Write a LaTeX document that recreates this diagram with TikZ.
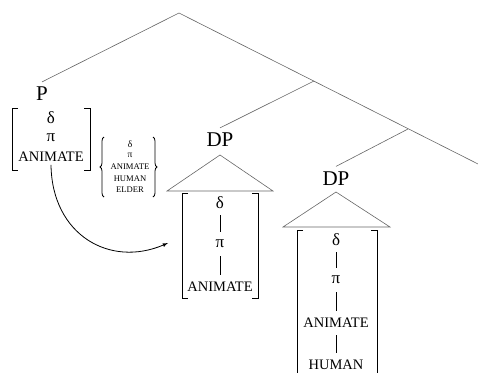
\documentclass[tikz,border=0pt]{standalone}
\usepackage{fontspec}
\setmainfont{Liberation Serif}
\usetikzlibrary{decorations.pathreplacing}
\begin{document}
\begin{tikzpicture}[x=1pt,y=-1pt,
  tree/.style={draw=black!60,line width=0.6pt},
  lab/.style={font=\fontsize{21}{23}\selectfont,inner sep=5pt},
  gk/.style={font=\fontsize{17}{19}\selectfont,inner sep=0pt},
  capf/.style={font=\fontsize{14.5}{16}\selectfont,inner sep=0pt},
  sm/.style={font=\fontsize{8.6}{9}\selectfont,inner sep=0pt},
  smgk/.style={font=\fontsize{9.5}{10}\selectfont,inner sep=0pt},
  brk/.style={draw=black,line width=0.8pt},
  bar/.style={draw=black,line width=0.6pt,shorten <=12pt,shorten >=12pt},
  brc/.style={draw=black,line width=0.8pt,decorate,decoration={brace,amplitude=4pt}}]
\useasboundingbox (0,0) rectangle (478,372);
% tree
\coordinate (top) at (179,13);
\coordinate (b1) at (314,81);
\coordinate (b2) at (408,129);
\coordinate (rend) at (482,166);
\node[lab] (P) at (42,94) {P};
\node[lab] (DP1) at (220,140) {DP};
\node[lab] (DP2) at (336,178.5) {DP};
\draw[tree] (P.north) -- (top) -- (rend);
\draw[tree] (b1) -- (DP1.north);
\draw[tree] (b2) -- (DP2.north);
% triangles
\coordinate (t1a) at (220,155);
\coordinate (t1l) at (167,191);
\coordinate (t1r) at (273,191);
\draw[tree] (t1l) -- (t1a) -- (t1r) -- cycle;
\coordinate (t2a) at (336,192);
\coordinate (t2l) at (283,227);
\coordinate (t2r) at (390,227);
\draw[tree] (t2l) -- (t2a) -- (t2r) -- cycle;
% P bracket
\node[gk] (pd) at (51,118) {δ};
\node[gk] (pp) at (51,138) {π};
\node[capf] (pa) at (51,157) {ANIMATE};
\draw[brk] (18,108) -- (12,108) -- (12,170) -- (18,170);
\draw[brk] (84,108) -- (90,108) -- (90,170) -- (84,170);
% brace set
\node[smgk] (sd) at (130,144) {δ};
\node[smgk] (sp) at (130,155.5) {π};
\node[sm] (sa) at (130,166.5) {ANIMATE};
\node[sm] (sh) at (130,178.5) {HUMAN};
\node[sm] (se) at (130,190) {ELDER};
\draw[brc] (104,197) -- (104,137);
\draw[brc] (153,137) -- (153,197);
% DP1 bracket
\node[gk] (d1) at (220,203) {δ};
\node[gk] (p1) at (220,244) {π};
\node[capf] (a1) at (220,287) {ANIMATE};
\draw[bar] (d1.center) -- (p1.center);
\draw[bar] (p1.center) -- (a1.center);
\draw[brk] (188,193) -- (182,193) -- (182,298) -- (188,298);
\draw[brk] (252,193) -- (258,193) -- (258,298) -- (252,298);
% DP2 bracket
\node[gk] (d2) at (336,240) {δ};
\node[gk] (p2) at (336,280) {π};
\node[capf] (a2) at (336,323) {ANIMATE};
\node[capf] (h2) at (336,365) {HUMAN};
\draw[bar] (d2.center) -- (p2.center);
\draw[bar] (p2.center) -- (a2.center);
\draw[bar] (a2.center) -- (h2.center);
\draw[brk] (303,230) -- (297,230) -- (297,380);
\draw[brk] (371,230) -- (377,230) -- (377,380);
% arrow
\draw[black,line width=0.8pt,-latex] ([yshift=-3pt]pa.south) .. controls (52,235) and (110,268) .. (168,243);
\end{tikzpicture}
\end{document}
